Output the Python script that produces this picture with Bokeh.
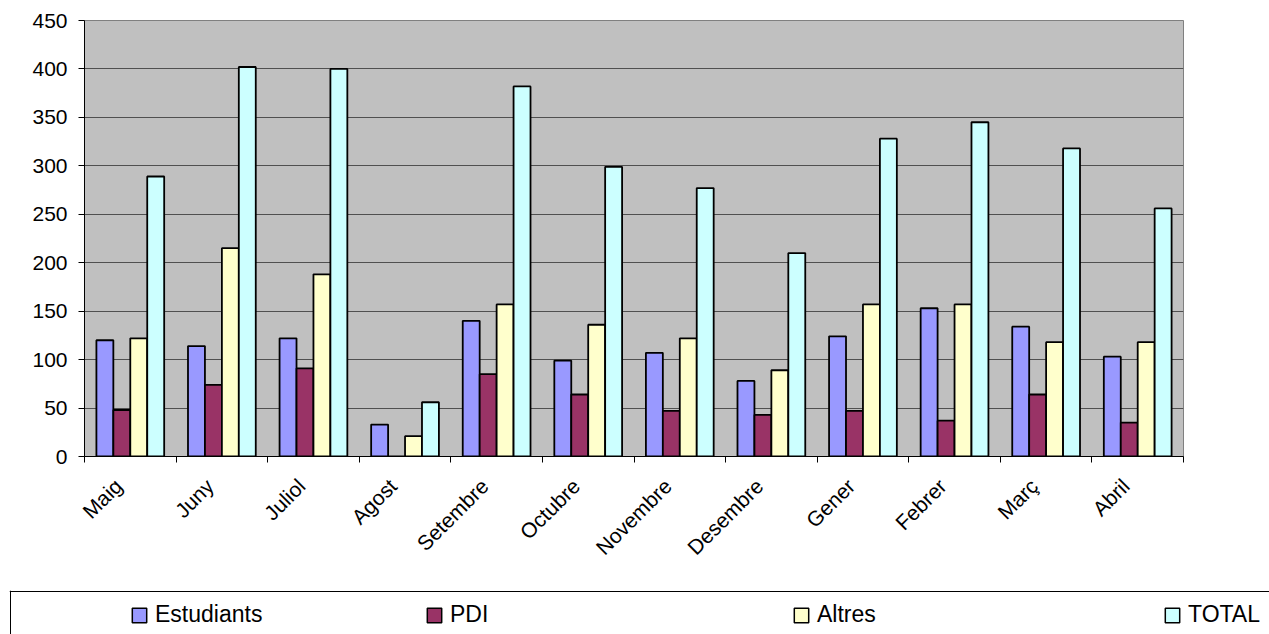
from math import pi
from bokeh.plotting import figure
from bokeh.models import (Range1d, FixedTicker, Legend, LegendItem,
                          ColumnDataSource, Span)
from bokeh.layouts import column, row
from bokeh.embed import file_html
from bokeh.resources import INLINE

months = ["Maig", "Juny", "Juliol", "Agost", "Setembre", "Octubre",
          "Novembre", "Desembre", "Gener", "Febrer", "Març", "Abril"]
estudiants = [120, 114, 122, 33, 140, 99, 107, 78, 124, 153, 134, 103]
pdi = [48, 74, 91, 0, 85, 64, 47, 43, 47, 37, 64, 35]
altres = [122, 215, 188, 21, 157, 136, 122, 89, 157, 157, 118, 118]
total = [289, 402, 400, 56, 382, 299, 277, 210, 328, 345, 318, 256]
series_names = ["Estudiants", "PDI", "Altres", "TOTAL"]
series_values = [estudiants, pdi, altres, total]
colors = ["#9999FF", "#993366", "#FFFFCC", "#CCFFFF"]
y_ticks = [0, 50, 100, 150, 200, 250, 300, 350, 400, 450]

FONT = "Liberation Sans"

p = figure(width=1269, height=583, x_range=Range1d(0, len(months)),
           y_range=Range1d(0, 450), output_backend="svg",
           toolbar_location=None, min_border_left=84, min_border_right=86,
           min_border_top=20, min_border_bottom=127)
p.background_fill_color = "#C0C0C0"
p.border_fill_color = "white"
p.outline_line_color = "#808080"
p.outline_line_width = 1

centers = [i + 0.5 for i in range(len(months))]
offsets = [-0.2775, -0.0925, 0.0925, 0.2775]
for name, vals, col, off in zip(series_names, series_values, colors, offsets):
    src = ColumnDataSource(dict(x=[c + off for c in centers], top=vals, month=months))
    p.vbar(x="x", top="top", bottom=0, width=0.185, source=src,
           fill_color=col, line_color="black", line_width=1.8)

p.xgrid.grid_line_color = None
p.ygrid.grid_line_color = "#505050"
p.ygrid.grid_line_width = 1
p.ygrid.ticker = FixedTicker(ticks=y_ticks)

# month labels sit slightly left of each group centre, as in the original
label_pos = [c - 0.13 for c in centers]
p.xaxis.ticker = FixedTicker(ticks=label_pos, minor_ticks=list(range(len(months) + 1)))
p.xaxis.major_label_overrides = {c: m for c, m in zip(label_pos, months)}
p.xaxis.major_tick_out = 0
p.xaxis.major_tick_in = 0
p.xaxis.minor_tick_out = 6
p.xaxis.minor_tick_in = 0
p.xaxis.minor_tick_line_color = "black"
p.xaxis.axis_line_color = "black"
p.xaxis.major_label_orientation = pi / 4
p.xaxis.major_label_text_font = FONT
p.xaxis.major_label_text_font_size = "21px"
p.xaxis.major_label_text_color = "black"
p.xaxis.major_label_standoff = 20

p.yaxis.ticker = FixedTicker(ticks=y_ticks)
p.yaxis.major_tick_out = 6
p.yaxis.major_tick_in = 0
p.yaxis.minor_tick_line_color = None
p.yaxis.axis_line_color = "black"
p.yaxis.major_tick_line_color = "black"
p.yaxis.major_label_text_font = FONT
p.yaxis.major_label_text_font_size = "21px"
p.yaxis.major_label_text_color = "black"
p.yaxis.major_label_standoff = 11

# legend strip below the chart; its frame runs in pixel units
p2 = figure(width=1269, height=51, x_range=Range1d(-1, 1259), y_range=Range1d(0, 44),
            output_backend="svg", toolbar_location=None,
            x_axis_location=None, y_axis_location=None,
            min_border_left=9, min_border_right=0, min_border_top=7,
            min_border_bottom=0)
p2.outline_line_color = None
p2.xgrid.grid_line_color = None
p2.ygrid.grid_line_color = None
p2.background_fill_color = "white"
p2.border_fill_color = "white"
p2.add_layout(Span(location=43, dimension="width", line_color="black", line_width=1))
p2.add_layout(Span(location=0, dimension="height", line_color="black", line_width=1))

legend_x = [121, 416, 783, 1154]
for name, vals, col, lx in zip(series_names, series_values, colors, legend_x):
    r = p2.vbar(x=centers, top=vals, width=0.185, fill_color=col,
                line_color="black", line_width=1.5, visible=False)
    leg = Legend(items=[LegendItem(label=name, renderers=[r])], location=(lx, 6),
                 orientation="horizontal", border_line_color=None,
                 background_fill_alpha=0, padding=0, margin=0,
                 glyph_width=18, glyph_height=18, label_standoff=7,
                 label_text_font=FONT, label_text_font_size="23px",
                 label_text_color="black",
                 label_height=15, click_policy="none",
                 inactive_fill_alpha=0)
    p2.add_layout(leg)

layout = column(p, row(p2), spacing=0)
open("out.html", "w").write(file_html(layout, INLINE))
